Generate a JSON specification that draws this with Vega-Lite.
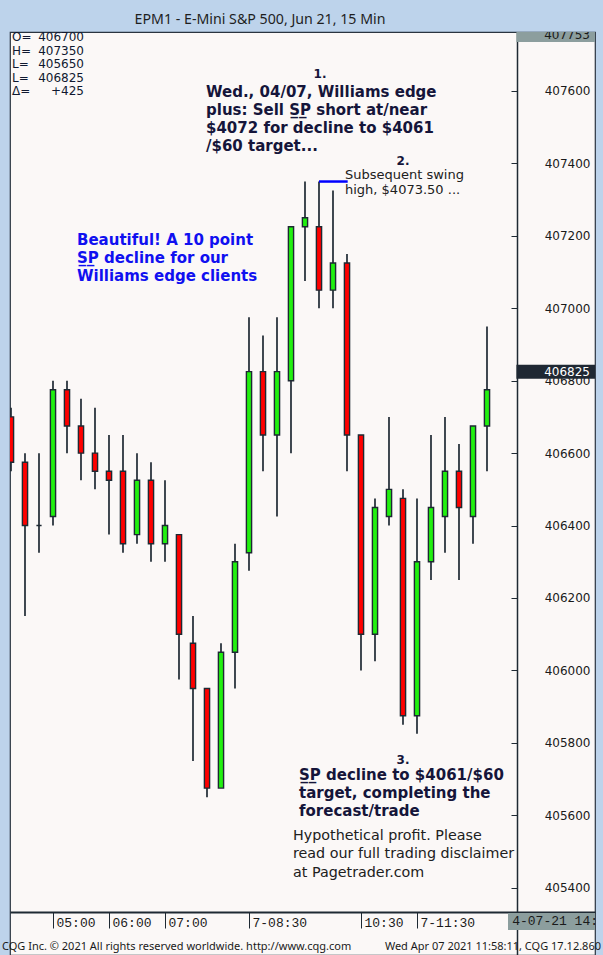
{
  "$schema": "https://vega.github.io/schema/vega-lite/v6.json",
  "width": 585,
  "height": 923,
  "autosize": {"type": "none"},
  "padding": {"left": 10, "top": 32, "right": 8, "bottom": 0},
  "background": "#BDD3EB",
  "config": {"view": {"fill": "#FBF8F7", "stroke": "#2A3440", "strokeWidth": 1.2}},
  "datasets": {
    "one": [{}],
    "candles": [
      {"time": "2021-04-07T04:15", "open": 406700, "high": 406725, "low": 406550, "close": 406575},
      {"time": "2021-04-07T04:30", "open": 406575, "high": 406600, "low": 406150, "close": 406400},
      {"time": "2021-04-07T04:45", "open": 406400, "high": 406600, "low": 406325, "close": 406400},
      {"time": "2021-04-07T05:00", "open": 406425, "high": 406800, "low": 406400, "close": 406775},
      {"time": "2021-04-07T05:15", "open": 406775, "high": 406800, "low": 406600, "close": 406675},
      {"time": "2021-04-07T05:30", "open": 406675, "high": 406750, "low": 406525, "close": 406600},
      {"time": "2021-04-07T05:45", "open": 406600, "high": 406725, "low": 406500, "close": 406550},
      {"time": "2021-04-07T06:00", "open": 406550, "high": 406650, "low": 406375, "close": 406525},
      {"time": "2021-04-07T06:15", "open": 406550, "high": 406650, "low": 406325, "close": 406350},
      {"time": "2021-04-07T06:30", "open": 406375, "high": 406600, "low": 406350, "close": 406525},
      {"time": "2021-04-07T06:45", "open": 406525, "high": 406575, "low": 406300, "close": 406350},
      {"time": "2021-04-07T07:00", "open": 406350, "high": 406525, "low": 406300, "close": 406400},
      {"time": "2021-04-07T07:15", "open": 406375, "high": 406375, "low": 405975, "close": 406100},
      {"time": "2021-04-07T07:30", "open": 406075, "high": 406150, "low": 405750, "close": 405950},
      {"time": "2021-04-07T07:45", "open": 405950, "high": 405950, "low": 405650, "close": 405675},
      {"time": "2021-04-07T08:00", "open": 405675, "high": 406075, "low": 405675, "close": 406050},
      {"time": "2021-04-07T08:15", "open": 406050, "high": 406350, "low": 405950, "close": 406300},
      {"time": "2021-04-07T08:30", "open": 406325, "high": 406975, "low": 406275, "close": 406825},
      {"time": "2021-04-07T08:45", "open": 406825, "high": 406925, "low": 406550, "close": 406650},
      {"time": "2021-04-07T09:00", "open": 406650, "high": 406975, "low": 406425, "close": 406825},
      {"time": "2021-04-07T09:15", "open": 406800, "high": 407225, "low": 406600, "close": 407225},
      {"time": "2021-04-07T09:30", "open": 407225, "high": 407350, "low": 407075, "close": 407250},
      {"time": "2021-04-07T09:45", "open": 407225, "high": 407350, "low": 407000, "close": 407050},
      {"time": "2021-04-07T10:00", "open": 407050, "high": 407325, "low": 407000, "close": 407125},
      {"time": "2021-04-07T10:15", "open": 407125, "high": 407150, "low": 406550, "close": 406650},
      {"time": "2021-04-07T10:30", "open": 406650, "high": 406650, "low": 406000, "close": 406100},
      {"time": "2021-04-07T10:45", "open": 406100, "high": 406475, "low": 406025, "close": 406450},
      {"time": "2021-04-07T11:00", "open": 406425, "high": 406700, "low": 406400, "close": 406500},
      {"time": "2021-04-07T11:15", "open": 406475, "high": 406500, "low": 405850, "close": 405875},
      {"time": "2021-04-07T11:30", "open": 405875, "high": 406475, "low": 405825, "close": 406300},
      {"time": "2021-04-07T11:45", "open": 406300, "high": 406650, "low": 406250, "close": 406450},
      {"time": "2021-04-07T12:00", "open": 406425, "high": 406700, "low": 406325, "close": 406550},
      {"time": "2021-04-07T12:15", "open": 406550, "high": 406625, "low": 406250, "close": 406450},
      {"time": "2021-04-07T12:30", "open": 406425, "high": 406675, "low": 406350, "close": 406675},
      {"time": "2021-04-07T12:45", "open": 406675, "high": 406950, "low": 406550, "close": 406775}
    ],
    "numbers": [
      {"time": "2021-04-07T09:46:04", "price": 407636, "label": "1."},
      {"time": "2021-04-07T11:15:00", "price": 407395, "label": "2."},
      {"time": "2021-04-07T11:15:00", "price": 405742, "label": "3."}
    ],
    "boldNotes": [
      {"time": "2021-04-07T07:43:56", "price": 407583, "label": ["Wed., 04/07, Williams edge", "plus: Sell S\u0332P\u0332 short at/near", "$4072 for decline to $4061", "/$60 target..."]},
      {"time": "2021-04-07T09:23:34", "price": 405697, "label": ["S\u0332P\u0332 decline to $4061/$60", "target, completing the", "forecast/trade"]}
    ],
    "blueNote": [
      {"time": "2021-04-07T05:25:43", "price": 407175, "label": ["Beautiful! A 10 point", "S\u0332P\u0332 decline for our", "Williams edge clients"]}
    ],
    "swingNote": [
      {"time": "2021-04-07T10:12:51", "price": 407357, "label": ["Subsequent swing", "high, $4073.50 ..."]}
    ],
    "disclaimer": [
      {"time": "2021-04-07T09:17:09", "price": 405532, "label": ["Hypothetical profit. Please", "read our full trading disclaimer", "at Pagetrader.com"]}
    ],
    "ohlcKeys": [
      {"time": "2021-04-07T04:16:04", "price": 407738, "label": ["O=", "H=", "L=", "L=", "\u0394="]}
    ],
    "ohlcValues": [
      {"time": "2021-04-07T05:33:13", "price": 407738, "label": ["406700", "407350", "405650", "406825", "+425"]}
    ]
  },
  "layer": [
    {
      "data": {"name": "candles"},
      "mark": {"type": "rule", "color": "#1E2933", "strokeWidth": 1.7},
      "encoding": {
        "x": {
          "field": "time", "type": "temporal",
          "scale": {"domain": [{"year": 2021, "month": 4, "date": 7, "hours": 4, "minutes": 13, "seconds": 56}, {"year": 2021, "month": 4, "date": 7, "hours": 14, "minutes": 40, "seconds": 43}], "padding": 0},
          "axis": {
            "orient": "bottom", "offset": -43,
            "values": [
              {"year": 2021, "month": 4, "date": 7, "hours": 5, "minutes": 0},
              {"year": 2021, "month": 4, "date": 7, "hours": 6, "minutes": 0},
              {"year": 2021, "month": 4, "date": 7, "hours": 7, "minutes": 0},
              {"year": 2021, "month": 4, "date": 7, "hours": 8, "minutes": 30},
              {"year": 2021, "month": 4, "date": 7, "hours": 10, "minutes": 30},
              {"year": 2021, "month": 4, "date": 7, "hours": 11, "minutes": 30}
            ],
            "labelExpr": "(hours(datum.value) == 8 || hours(datum.value) == 11 ? '7-' : '') + timeFormat(datum.value, '%H:%M')",
            "tickSize": 16, "tickColor": "#1E2933", "tickWidth": 1,
            "domainColor": "#1E2933", "domainWidth": 2,
            "labelAlign": "left", "labelBaseline": "middle", "labelPadding": -6, "labelOffset": 3,
            "labelFont": "Liberation Mono", "labelFontSize": 13, "labelColor": "#1A1A1A",
            "grid": false, "title": null
          }
        },
        "y": {
          "field": "low", "type": "quantitative",
          "scale": {"domain": [405214.2, 407762.9], "nice": false, "zero": false, "padding": 0},
          "axis": {
            "orient": "left", "offset": -507,
            "values": [405400, 405600, 405800, 406000, 406200, 406400, 406600, 406800, 407000, 407200, 407400, 407600],
            "format": "d",
            "tickSize": 6,
            "tickColor": "#1E2933", "tickWidth": 1,
            "domainColor": "#1E2933", "domainWidth": 1.5,
            "labelFont": "DejaVu Sans", "labelFontSize": 12, "labelColor": "#1A1A1A",
            "labelAlign": "right", "labelPadding": -79,
            "grid": false, "title": null
          }
        },
        "y2": {"field": "high"}
      }
    },
    {
      "data": {"name": "candles"},
      "mark": {"type": "bar", "width": 5.2, "stroke": "#1E2933", "strokeWidth": 1.4, "clip": true},
      "encoding": {
        "x": {"field": "time", "type": "temporal"},
        "y": {"field": "open", "type": "quantitative"},
        "y2": {"field": "close"},
        "fill": {
          "condition": [
            {"test": "datum.close > datum.open", "value": "#22F010"},
            {"test": "datum.close < datum.open", "value": "#FF0000"}
          ],
          "value": "#1E2933"
        }
      }
    },
    {
      "data": {"name": "one"},
      "mark": {"type": "rule", "color": "#0000FF", "strokeWidth": 2.5},
      "encoding": {
        "x": {"datum": {"year": 2021, "month": 4, "date": 7, "hours": 9, "minutes": 45}, "type": "temporal"},
        "x2": {"datum": {"year": 2021, "month": 4, "date": 7, "hours": 10, "minutes": 15, "seconds": 45}},
        "y": {"datum": 407350, "type": "quantitative"}
      }
    },
    {
      "data": {"name": "one"},
      "mark": {"type": "rule", "color": "#1F2833", "strokeWidth": 14, "strokeCap": "butt"},
      "encoding": {
        "x": {"datum": {"year": 2021, "month": 4, "date": 7, "hours": 13, "minutes": 16, "seconds": 30}, "type": "temporal"},
        "x2": {"datum": {"year": 2021, "month": 4, "date": 7, "hours": 14, "minutes": 40, "seconds": 43}},
        "y": {"datum": 406825, "type": "quantitative"}
      }
    },
    {
      "data": {"name": "one"},
      "mark": {"type": "text", "align": "right", "baseline": "middle", "font": "DejaVu Sans", "fontSize": 12, "color": "#FFFFFF"},
      "encoding": {
        "x": {"datum": {"year": 2021, "month": 4, "date": 7, "hours": 14, "minutes": 35, "seconds": 21}, "type": "temporal"},
        "y": {"datum": 406825, "type": "quantitative"},
        "text": {"value": "406825"}
      }
    },
    {
      "data": {"name": "one"},
      "mark": {"type": "rule", "color": "#8C9E9E", "strokeWidth": 10, "strokeCap": "butt"},
      "encoding": {
        "x": {"datum": {"year": 2021, "month": 4, "date": 7, "hours": 13, "minutes": 16, "seconds": 30}, "type": "temporal"},
        "x2": {"datum": {"year": 2021, "month": 4, "date": 7, "hours": 14, "minutes": 40, "seconds": 43}},
        "y": {"datum": 407749, "type": "quantitative"}
      }
    },
    {
      "data": {"name": "one"},
      "mark": {"type": "text", "align": "right", "baseline": "middle", "font": "DejaVu Sans", "fontSize": 12, "color": "#1A1A1A", "clip": true},
      "encoding": {
        "x": {"datum": {"year": 2021, "month": 4, "date": 7, "hours": 14, "minutes": 35, "seconds": 21}, "type": "temporal"},
        "y": {"datum": 407754, "type": "quantitative"},
        "text": {"value": "407753"}
      }
    },
    {
      "data": {"name": "one"},
      "mark": {"type": "rule", "color": "#8C9E9E", "strokeWidth": 17, "strokeCap": "butt"},
      "encoding": {
        "x": {"datum": {"year": 2021, "month": 4, "date": 7, "hours": 13, "minutes": 7, "seconds": 30}, "type": "temporal"},
        "x2": {"datum": {"year": 2021, "month": 4, "date": 7, "hours": 14, "minutes": 40, "seconds": 43}},
        "y": {"datum": 405307, "type": "quantitative"}
      }
    },
    {
      "data": {"name": "one"},
      "mark": {"type": "text", "align": "left", "baseline": "middle", "font": "Liberation Mono", "fontSize": 13, "color": "#1A1A1A"},
      "encoding": {
        "x": {"datum": {"year": 2021, "month": 4, "date": 7, "hours": 13, "minutes": 12}, "type": "temporal"},
        "y": {"datum": 405307, "type": "quantitative"},
        "text": {"value": "4-07-21 14:"}
      }
    },
    {
      "data": {"name": "one"},
      "mark": {"type": "text", "align": "center", "baseline": "alphabetic", "font": "Noto Sans", "fontSize": 14.2, "color": "#1E1E1E"},
      "encoding": {
        "x": {"datum": {"year": 2021, "month": 4, "date": 7, "hours": 8, "minutes": 41, "seconds": 48}, "type": "temporal"},
        "y": {"datum": 407785, "type": "quantitative"},
        "text": {"value": "EPM1 - E-Mini S&P 500, Jun 21, 15 Min"}
      }
    },
    {
      "data": {"name": "one"},
      "mark": {"type": "text", "align": "left", "baseline": "alphabetic", "font": "Noto Sans", "fontSize": 11, "color": "#1A1A1A"},
      "encoding": {
        "x": {"datum": {"year": 2021, "month": 4, "date": 7, "hours": 4, "minutes": 5, "seconds": 21}, "type": "temporal"},
        "y": {"datum": 405228, "type": "quantitative"},
        "text": {"value": "CQG Inc. \u00a9 2021 All rights reserved worldwide. http://www.cqg.com"}
      }
    },
    {
      "data": {"name": "one"},
      "mark": {"type": "text", "align": "right", "baseline": "alphabetic", "dx": 6, "font": "Noto Sans", "fontSize": 11, "color": "#1A1A1A"},
      "encoding": {
        "x": {"datum": {"year": 2021, "month": 4, "date": 7, "hours": 14, "minutes": 40, "seconds": 43}, "type": "temporal"},
        "y": {"datum": 405228, "type": "quantitative"},
        "text": {"value": "Wed Apr 07 2021 11:58:11, CQG 17.12.860"}
      }
    },
    {
      "data": {"name": "numbers"},
      "mark": {"type": "text", "align": "center", "baseline": "alphabetic", "font": "DejaVu Sans", "fontWeight": "bold", "fontSize": 12, "color": "#15153A"},
      "encoding": {
        "x": {"field": "time", "type": "temporal"},
        "y": {"field": "price", "type": "quantitative"},
        "text": {"field": "label"}
      }
    },
    {
      "data": {"name": "boldNotes"},
      "mark": {"type": "text", "align": "left", "baseline": "alphabetic", "font": "DejaVu Sans", "fontWeight": "bold", "fontSize": 15, "lineHeight": 18, "color": "#15153A"},
      "encoding": {
        "x": {"field": "time", "type": "temporal"},
        "y": {"field": "price", "type": "quantitative"},
        "text": {"field": "label"}
      }
    },
    {
      "data": {"name": "blueNote"},
      "mark": {"type": "text", "align": "left", "baseline": "alphabetic", "font": "DejaVu Sans", "fontWeight": "bold", "fontSize": 15, "lineHeight": 18, "color": "#1010F0"},
      "encoding": {
        "x": {"field": "time", "type": "temporal"},
        "y": {"field": "price", "type": "quantitative"},
        "text": {"field": "label"}
      }
    },
    {
      "data": {"name": "swingNote"},
      "mark": {"type": "text", "align": "left", "baseline": "alphabetic", "font": "DejaVu Sans", "fontSize": 13, "lineHeight": 15, "color": "#202020"},
      "encoding": {
        "x": {"field": "time", "type": "temporal"},
        "y": {"field": "price", "type": "quantitative"},
        "text": {"field": "label"}
      }
    },
    {
      "data": {"name": "disclaimer"},
      "mark": {"type": "text", "align": "left", "baseline": "alphabetic", "font": "DejaVu Sans", "fontSize": 14.3, "lineHeight": 18.5, "color": "#202020"},
      "encoding": {
        "x": {"field": "time", "type": "temporal"},
        "y": {"field": "price", "type": "quantitative"},
        "text": {"field": "label"}
      }
    },
    {
      "data": {"name": "ohlcKeys"},
      "mark": {"type": "text", "align": "left", "baseline": "alphabetic", "font": "DejaVu Sans", "fontSize": 12, "lineHeight": 13.5, "color": "#101830"},
      "encoding": {
        "x": {"field": "time", "type": "temporal"},
        "y": {"field": "price", "type": "quantitative"},
        "text": {"field": "label"}
      }
    },
    {
      "data": {"name": "ohlcValues"},
      "mark": {"type": "text", "align": "right", "baseline": "alphabetic", "font": "DejaVu Sans", "fontSize": 12, "lineHeight": 13.5, "color": "#101830"},
      "encoding": {
        "x": {"field": "time", "type": "temporal"},
        "y": {"field": "price", "type": "quantitative"},
        "text": {"field": "label"}
      }
    }
  ]
}
